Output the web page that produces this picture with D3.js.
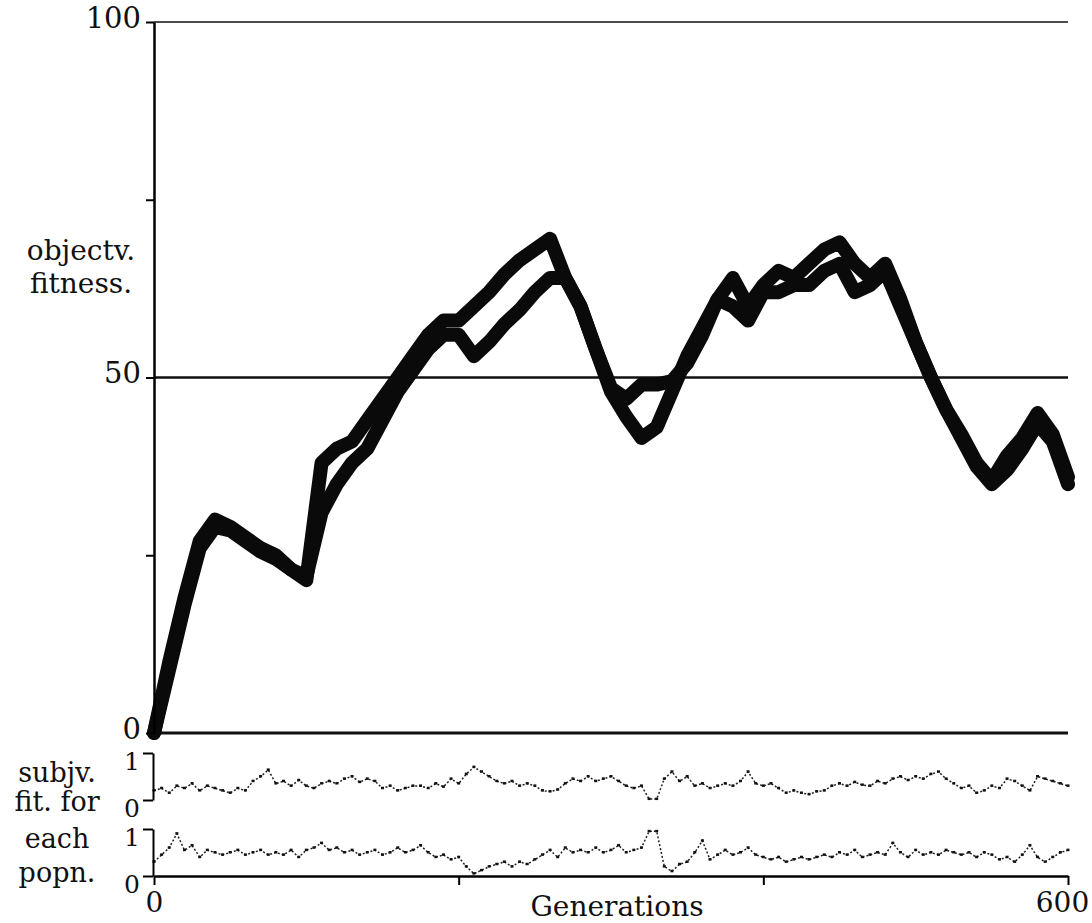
<!DOCTYPE html>
<html>
<head>
<meta charset="utf-8">
<script src="https://cdn.jsdelivr.net/npm/d3@7"></script>
<style>
  body { margin: 0; background: #fff; }
  text { font-family: "DejaVu Serif", "Liberation Serif", serif; fill: #111; }
</style>
</head>
<body>
<div id="chart"></div>
<script>
var width = 1092;
var height = 923;

// objective fitness, one value every 10 generations
var objGens = d3.range(0, 601, 10);
var objPopA = [0, 10, 19, 27, 30, 29, 27.5, 26, 25, 23, 21.5, 38, 40, 41, 44, 47, 50, 53, 56, 58,
    58, 60, 62, 64.5, 66.5, 68, 69.5, 64, 60, 54, 48, 44.5, 41.5, 43, 48, 53, 57, 61, 64, 60,
    63, 65, 64, 66, 68, 69, 66, 64, 66, 61, 55, 50, 45.5, 42, 38, 35.5, 39, 41.5, 45, 42, 36];
var objPopB = [0, 9, 18, 26, 29, 28.5, 27, 25.5, 24.5, 23, 22, 31, 35, 38, 40, 44, 48, 51, 54, 56,
    56, 53, 55, 57.5, 59.5, 62, 64, 64, 60, 54, 48.5, 47, 49, 49, 49.5, 52, 56, 61, 60, 58,
    62, 62, 63, 63, 65, 66, 62, 63, 65, 60, 55, 50, 45.5, 41.5, 37.5, 35, 37, 40, 43.5, 41, 35];

// subjective fitness, one value every 5 generations
var subGens = d3.range(0, 601, 5);
var subPop1 = [0.2, 0.25, 0.15, 0.3, 0.25, 0.35, 0.2, 0.3, 0.25, 0.2, 0.15, 0.25, 0.2, 0.4, 0.5, 0.64,
    0.35, 0.4, 0.3, 0.42, 0.3, 0.25, 0.35, 0.4, 0.35, 0.45, 0.5, 0.38, 0.45, 0.4, 0.25, 0.3, 0.2, 0.25,
    0.3, 0.3, 0.25, 0.35, 0.28, 0.45, 0.35, 0.55, 0.7, 0.6, 0.5, 0.4, 0.35, 0.4, 0.3, 0.35, 0.3, 0.2,
    0.18, 0.22, 0.35, 0.45, 0.4, 0.5, 0.4, 0.45, 0.5, 0.4, 0.3, 0.25, 0.3, 0.02, 0.02, 0.45, 0.6, 0.4,
    0.5, 0.3, 0.35, 0.25, 0.3, 0.35, 0.3, 0.4, 0.6, 0.35, 0.3, 0.35, 0.25, 0.15, 0.2, 0.15, 0.12, 0.18,
    0.2, 0.3, 0.35, 0.3, 0.38, 0.32, 0.3, 0.4, 0.35, 0.45, 0.5, 0.42, 0.5, 0.45, 0.55, 0.6, 0.45, 0.35,
    0.25, 0.3, 0.15, 0.2, 0.3, 0.25, 0.45, 0.4, 0.3, 0.2, 0.5, 0.45, 0.4, 0.35, 0.3];
var subPop2 = [0.3, 0.45, 0.6, 0.9, 0.55, 0.65, 0.4, 0.55, 0.5, 0.45, 0.5, 0.55, 0.45, 0.5, 0.55, 0.45,
    0.5, 0.45, 0.55, 0.4, 0.55, 0.6, 0.7, 0.55, 0.6, 0.5, 0.55, 0.45, 0.5, 0.55, 0.45, 0.5, 0.6, 0.5,
    0.55, 0.65, 0.5, 0.4, 0.45, 0.35, 0.4, 0.2, 0.05, 0.12, 0.2, 0.25, 0.3, 0.2, 0.3, 0.25, 0.35, 0.45,
    0.55, 0.4, 0.6, 0.5, 0.55, 0.5, 0.6, 0.5, 0.55, 0.65, 0.5, 0.55, 0.6, 0.95, 0.95, 0.2, 0.1, 0.25,
    0.3, 0.5, 0.75, 0.35, 0.45, 0.55, 0.45, 0.5, 0.6, 0.45, 0.4, 0.35, 0.4, 0.3, 0.35, 0.4, 0.35, 0.4,
    0.45, 0.4, 0.5, 0.45, 0.55, 0.4, 0.45, 0.5, 0.45, 0.7, 0.5, 0.4, 0.55, 0.45, 0.5, 0.45, 0.55, 0.5,
    0.45, 0.5, 0.4, 0.5, 0.45, 0.35, 0.4, 0.3, 0.45, 0.65, 0.4, 0.3, 0.4, 0.5, 0.55];

var yTicks = [0, 25, 50, 75, 100];
var yLabels = [0, 50, 100];
var gridValues = [0, 50, 100];
var xTicks = [0, 200, 400, 600];
var xLabels = [0, 600];

var svg = d3.select('#chart')
    .append('svg')
    .attr('width', width)
    .attr('height', height);

var x = d3.scaleLinear().domain([0, 600]).range([154, 1068]);
var y = d3.scaleLinear().domain([0, 100]).range([733, 22]);
var ySub1 = d3.scaleLinear().domain([0, 1]).range([800, 753]);
var ySub2 = d3.scaleLinear().domain([0, 1]).range([876, 829]);

// horizontal reference lines
svg.append('g')
    .selectAll('line')
    .data(gridValues)
    .enter()
    .append('line')
    .attr('x1', x(0))
    .attr('x2', x(600))
    .attr('y1', (d) => y(d))
    .attr('y2', (d) => y(d))
    .attr('stroke', '#111')
    .attr('stroke-width', (d) => d == 0 ? 3 : (d == 50 ? 2.5 : 1.6));

// objective fitness bands
var objLine = d3.line()
    .x((d, i) => x(objGens[i]))
    .y((d) => y(d));

[objPopA, objPopB].forEach(function(serie) {
    svg.append('path')
        .datum(serie)
        .attr('d', objLine)
        .attr('fill', 'none')
        .attr('stroke', '#0a0a0a')
        .attr('stroke-width', 14)
        .attr('stroke-linejoin', 'round')
        .attr('stroke-linecap', 'round');
});

// subjective fitness strips
[[subPop1, ySub1], [subPop2, ySub2]].forEach(function(p) {
    var serie = p[0], ys = p[1];
    var line = d3.line()
        .x((d, i) => x(subGens[i]))
        .y((d) => ys(d));
    svg.append('path')
        .datum(serie)
        .attr('d', line)
        .attr('fill', 'none')
        .attr('stroke', '#222')
        .attr('stroke-width', 1.5)
        .attr('stroke-dasharray', '2,2');
    svg.append('g')
        .selectAll('rect')
        .data(serie)
        .enter()
        .append('rect')
        .attr('x', (d, i) => x(subGens[i]) - 1.5)
        .attr('y', (d) => ys(d) - 1.5)
        .attr('width', 3)
        .attr('height', 2.5)
        .attr('fill', '#111');

    // bracket axis
    var axis = d3.axisLeft(ys).tickValues([0, 1]).tickSize(10).tickSizeOuter(0)
        .tickFormat(d3.format('d'));
    var g = svg.append('g')
        .attr('transform', `translate(${x(0) - 1}, 0)`)
        .call(axis);
    g.select('.domain').attr('stroke-width', 2);
    g.selectAll('.tick line').attr('stroke-width', 2);
    g.selectAll('.tick text')
        .attr('x', -13)
        .attr('y', 8)
        .style('font-size', '25px')
        .style('font-family', '"DejaVu Serif", serif')
        .attr('fill', '#111');
});

// main y axis
var yAxis = d3.axisLeft(y)
    .tickValues(yTicks)
    .tickSize(8)
    .tickSizeOuter(0)
    .tickFormat((d) => yLabels.indexOf(d) >= 0 ? d : '');
var gy = svg.append('g')
    .attr('transform', `translate(${x(0)}, 0)`)
    .call(yAxis);
gy.select('.domain').attr('stroke-width', 2.5);
gy.selectAll('.tick line').attr('stroke-width', 2);
gy.selectAll('.tick text')
    .attr('x', -13)
    .attr('y', -4)
    .style('font-size', '29px')
    .style('font-family', '"DejaVu Serif", serif')
    .attr('fill', '#111');

// x axis
var xAxis = d3.axisBottom(x)
    .tickValues(xTicks)
    .tickSize(9)
    .tickSizeOuter(0)
    .tickFormat((d) => xLabels.indexOf(d) >= 0 ? d : '');
var gx = svg.append('g')
    .attr('transform', `translate(0, ${ySub2(0)})`)
    .call(xAxis);
gx.select('.domain').attr('stroke-width', 2.5);
gx.selectAll('.tick line').attr('stroke-width', 2);
gx.selectAll('.tick text')
    .attr('y', 16)
    .style('font-size', '28px')
    .style('font-family', '"DejaVu Serif", serif')
    .attr('fill', '#111');
gx.selectAll('.tick text').filter((d) => d == 600).attr('dx', -6);

svg.append('text')
    .attr('x', x(300) + 6)
    .attr('y', 916)
    .attr('text-anchor', 'middle')
    .style('font-size', '28px')
    .text('Generations');

// axis titles
var leftTitles = [
    ['objectv.', 81, 260],
    ['fitness.', 81, 293],
    ['subjv.', 57, 782],
    ['fit. for', 57, 811],
    ['each', 57, 848],
    ['popn.', 57, 882]
];
svg.append('g')
    .selectAll('text')
    .data(leftTitles)
    .enter()
    .append('text')
    .attr('x', (d) => d[1])
    .attr('y', (d) => d[2])
    .attr('text-anchor', 'middle')
    .style('font-size', (d, i) => i < 2 ? '28px' : '27px')
    .text((d) => d[0]);
</script>
</body>
</html>
